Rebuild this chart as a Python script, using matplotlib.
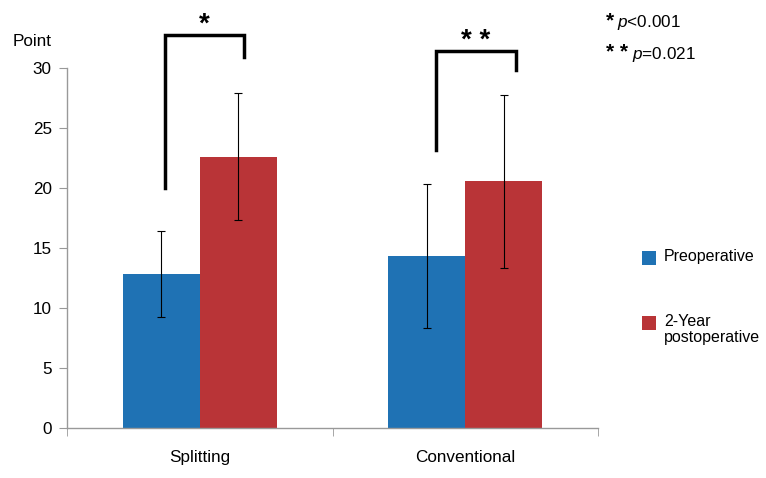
import matplotlib
matplotlib.use("Agg")
import matplotlib.pyplot as plt
from matplotlib.patches import Rectangle
import numpy as np

plt.rcParams['font.family'] = ['Liberation Sans', 'DejaVu Sans']
plt.rcParams['mathtext.fontset'] = 'custom'
plt.rcParams['mathtext.rm'] = 'Liberation Sans'
plt.rcParams['mathtext.it'] = 'Liberation Sans:italic'

categories = ["Splitting", "Conventional"]
series_names = ["Preoperative", "2-Year\npostoperative"]
pre_mean = [12.85, 14.35]
pre_sd = [3.6, 6.0]
post_mean = [22.6, 20.55]
post_sd = [5.3, 7.2]
yticks = [0, 5, 10, 15, 20, 25, 30]
sig_labels = ["*", "* *"]
p_stars = ["*", "* *"]
p_texts = ["$p$<0.001", "$p$=0.021"]

blue = "#1F72B4"
red = "#B93437"
FS = 12.3

fig = plt.figure(figsize=(7.66, 4.78), dpi=100)
ax = fig.add_axes([67/766, 50/478, (598-67)/766, (428-68)/478])

x = np.arange(len(categories))
w = 0.29
err_kw = dict(ecolor="black", elinewidth=0.8, capsize=3, capthick=0.8)
b1 = ax.bar(x - w/2, pre_mean, w, yerr=pre_sd, color=blue, error_kw=err_kw)
b2 = ax.bar(x + w/2, post_mean, w, yerr=post_sd, color=red, error_kw=err_kw)

ax.set_xlim(-0.5, 1.5)
ax.set_ylim(0, 30)
ax.set_yticks(yticks)
ax.set_xticks(x)
ax.set_xticklabels(categories, fontsize=FS)
ax.set_xticks([-0.5, 0.5, 1.5], minor=True)
ax.tick_params(axis='x', which='major', length=0, pad=16)
ax.tick_params(axis='x', which='minor', length=6, color="#999999", direction='out')
ax.tick_params(axis='y', length=6, color="#999999", direction='out', labelsize=FS, pad=5)
for s in ["top", "right"]:
    ax.spines[s].set_visible(False)
for s in ["left", "bottom"]:
    ax.spines[s].set_color("#999999")
    ax.spines[s].set_linewidth(1.0)

# significance brackets
brackets = [
    # (x_left, x_right, y_left_bottom, y_top, y_right_bottom)
    (-0.13, 0.165, 20.0, 32.75, 30.9),
    (0.89, 1.19, 23.2, 31.4, 29.8),
]
for (xl, xr, yl, yt, yr), lab in zip(brackets, sig_labels):
    ax.plot([xl, xl, xr, xr], [yl, yt, yt, yr], color="black", lw=2.5,
            clip_on=False, solid_joinstyle='miter')
    ax.text((xl + xr) / 2, yt - 0.2, lab, ha="center", va="bottom",
            fontsize=20, fontweight="bold", clip_on=False)

fig.text(13/766, 1 - 42/478, "Point", fontsize=FS, va="center", ha="left")

# p-value notes
p_y = [22, 54]
p_x = [617, 632]
for st, pt, yy, xx in zip(p_stars, p_texts, p_y, p_x):
    fig.text(606/766, 1 - (yy - 1)/478, st, fontsize=15, fontweight="bold",
             va="center", ha="left")
    fig.text(xx/766, 1 - yy/478, pt, fontsize=FS, va="center", ha="left")

# legend (drawn manually so the handle aligns with the first label line)
handles = [b1.patches[0], b2.patches[0]]
leg_y = [258, 323]
for h, name, yy in zip(handles, series_names, leg_y):
    fig.patches.append(Rectangle((642/766, 1 - (yy + 7)/478), 14/766, 14/478,
                                 transform=fig.transFigure,
                                 facecolor=h.get_facecolor(), edgecolor="none"))
    fig.text(664/766, 1 - (yy - 9)/478, name, fontsize=11.5, va="top", ha="left",
             linespacing=1.1)

fig.savefig("out.png", dpi=100)
